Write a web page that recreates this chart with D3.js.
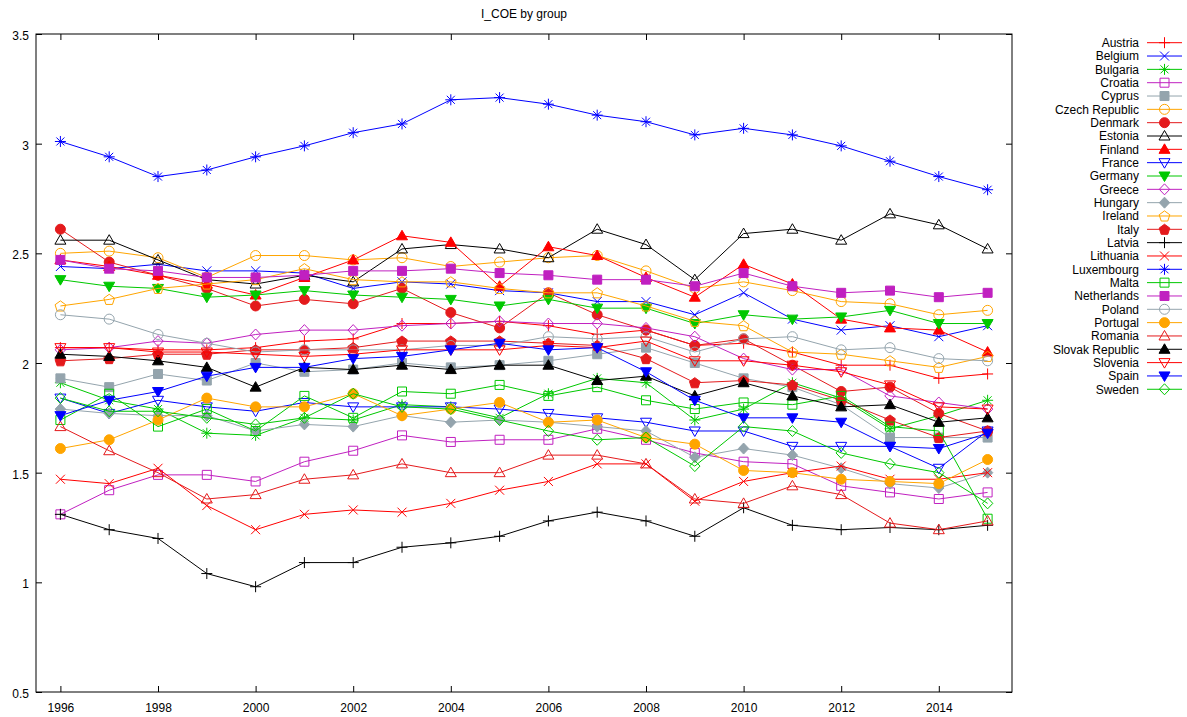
<!DOCTYPE html>
<html>
<head>
<meta charset="utf-8">
<script src="https://cdn.jsdelivr.net/npm/d3@7"></script>
<style>
  body { margin: 0; background: #fff; }
  text { font-family: "Liberation Sans", Arial, Helvetica, sans-serif; font-size: 12px; fill: #000; }
</style>
</head>
<body>
<svg id="chart" width="1187" height="717"></svg>
<script>
// ---- data -----------------------------------------------------------
const years = d3.range(1996, 2016);
const xTickYears = [1996, 1998, 2000, 2002, 2004, 2006, 2008, 2010, 2012, 2014];
const yTickValues = [0.5, 1, 1.5, 2, 2.5, 3, 3.5];
const chartTitle = "I_COE by group";

const countries = ["Austria", "Belgium", "Bulgaria", "Croatia", "Cyprus", "Czech Republic",
  "Denmark", "Estonia", "Finland", "France", "Germany", "Greece", "Hungary", "Ireland",
  "Italy", "Latvia", "Lithuania", "Luxembourg", "Malta", "Netherlands", "Poland",
  "Portugal", "Romania", "Slovak Republic", "Slovenia", "Spain", "Sweden"];

const austria     = [2.07, 2.07, 2.06, 2.06, 2.07, 2.10, 2.11, 2.18, 2.18, 2.19, 2.17, 2.13, 2.15, 2.08, 2.09, 2.05, 1.99, 1.99, 1.93, 1.95];
const belgium     = [2.44, 2.43, 2.45, 2.42, 2.42, 2.41, 2.34, 2.37, 2.36, 2.33, 2.32, 2.28, 2.28, 2.22, 2.32, 2.20, 2.15, 2.17, 2.12, 2.17];
const bulgaria    = [1.91, 1.83, 1.79, 1.68, 1.67, 1.75, 1.74, 1.81, 1.80, 1.75, 1.86, 1.93, 1.91, 1.74, 1.79, 1.91, 1.84, 1.70, 1.76, 1.83];
const croatia     = [1.31, 1.42, 1.49, 1.49, 1.46, 1.55, 1.60, 1.67, 1.64, 1.65, 1.65, 1.70, 1.65, 1.59, 1.55, 1.54, 1.44, 1.41, 1.38, 1.41];
const cyprus      = [1.93, 1.89, 1.95, 1.92, 2.00, 1.96, 1.97, 2.00, 1.98, 1.99, 2.01, 2.04, 2.07, 2.00, 1.93, 1.89, 1.81, 1.66, 1.66, 1.66];
const czech       = [2.50, 2.51, 2.48, 2.39, 2.49, 2.49, 2.47, 2.48, 2.44, 2.46, 2.48, 2.49, 2.42, 2.34, 2.37, 2.33, 2.28, 2.27, 2.22, 2.24];
const denmark     = [2.61, 2.46, 2.40, 2.34, 2.26, 2.29, 2.27, 2.34, 2.23, 2.16, 2.32, 2.22, 2.15, 2.08, 2.11, 1.99, 1.87, 1.89, 1.77, 1.69];
const estonia     = [2.56, 2.56, 2.47, 2.38, 2.36, 2.40, 2.37, 2.52, 2.54, 2.52, 2.48, 2.61, 2.54, 2.38, 2.59, 2.61, 2.56, 2.68, 2.63, 2.52];
const finland     = [2.47, 2.44, 2.40, 2.36, 2.31, 2.39, 2.47, 2.58, 2.55, 2.35, 2.53, 2.49, 2.39, 2.30, 2.45, 2.36, 2.20, 2.16, 2.15, 2.05];
const france      = [1.84, 1.77, 1.83, 1.80, 1.78, 1.82, 1.80, 1.80, 1.80, 1.79, 1.77, 1.75, 1.73, 1.69, 1.69, 1.62, 1.62, 1.62, 1.52, 1.69];
const germany     = [2.38, 2.35, 2.34, 2.30, 2.31, 2.33, 2.31, 2.30, 2.29, 2.26, 2.29, 2.25, 2.25, 2.18, 2.22, 2.20, 2.21, 2.24, 2.18, 2.18];
const greece      = [2.06, 2.07, 2.10, 2.09, 2.13, 2.15, 2.15, 2.17, 2.18, 2.19, 2.18, 2.18, 2.16, 2.12, 2.02, 1.97, 1.97, 1.85, 1.82, 1.79];
const hungary     = [1.79, 1.77, 1.76, 1.76, 1.69, 1.72, 1.71, 1.76, 1.73, 1.74, 1.73, 1.71, 1.69, 1.57, 1.61, 1.58, 1.52, 1.45, 1.43, 1.50];
const ireland     = [2.26, 2.29, 2.34, 2.36, 2.38, 2.43, 2.38, 2.37, 2.37, 2.34, 2.32, 2.32, 2.26, 2.19, 2.17, 2.05, 2.04, 2.01, 1.98, 2.03];
const italy       = [2.01, 2.02, 2.04, 2.04, 2.06, 2.06, 2.07, 2.10, 2.10, 2.10, 2.09, 2.08, 2.02, 1.91, 1.92, 1.90, 1.83, 1.74, 1.66, 1.69];
const latvia      = [1.31, 1.24, 1.20, 1.04, 0.98, 1.09, 1.09, 1.16, 1.18, 1.21, 1.28, 1.32, 1.28, 1.21, 1.34, 1.26, 1.24, 1.25, 1.24, 1.26];
const lithuania   = [1.47, 1.45, 1.52, 1.35, 1.24, 1.31, 1.33, 1.32, 1.36, 1.42, 1.46, 1.54, 1.54, 1.37, 1.46, 1.50, 1.53, 1.47, 1.47, 1.50];
const luxembourg  = [3.01, 2.94, 2.85, 2.88, 2.94, 2.99, 3.05, 3.09, 3.20, 3.21, 3.18, 3.13, 3.10, 3.04, 3.07, 3.04, 2.99, 2.92, 2.85, 2.79];
const malta       = [1.74, 1.86, 1.71, 1.79, 1.69, 1.85, 1.75, 1.87, 1.86, 1.90, 1.85, 1.89, 1.83, 1.79, 1.82, 1.81, 1.85, 1.71, 1.69, 1.29];
const netherlands = [2.47, 2.43, 2.42, 2.39, 2.39, 2.40, 2.42, 2.42, 2.43, 2.41, 2.40, 2.38, 2.38, 2.35, 2.41, 2.35, 2.32, 2.33, 2.30, 2.32];
const poland      = [2.22, 2.20, 2.13, 2.09, 2.05, 2.06, 2.06, 2.06, 2.08, 2.08, 2.12, 2.11, 2.12, 2.05, 2.11, 2.12, 2.06, 2.07, 2.02, 2.01];
const portugal    = [1.61, 1.65, 1.74, 1.84, 1.80, 1.80, 1.86, 1.76, 1.79, 1.82, 1.73, 1.74, 1.66, 1.63, 1.51, 1.50, 1.47, 1.46, 1.45, 1.56];
const romania     = [1.71, 1.60, 1.50, 1.38, 1.40, 1.47, 1.49, 1.54, 1.50, 1.50, 1.58, 1.58, 1.54, 1.38, 1.36, 1.44, 1.40, 1.27, 1.24, 1.28];
const slovakia    = [2.04, 2.03, 2.01, 1.98, 1.89, 1.98, 1.97, 1.99, 1.97, 1.99, 1.99, 1.92, 1.94, 1.85, 1.91, 1.85, 1.80, 1.81, 1.73, 1.75];
const slovenia    = [2.07, 2.07, 2.05, 2.05, 2.04, 2.03, 2.04, 2.06, 2.06, 2.06, 2.08, 2.07, 2.10, 2.01, 2.01, 1.99, 1.96, 1.90, 1.80, 1.79];
const spain       = [1.76, 1.83, 1.87, 1.94, 1.98, 1.98, 2.02, 2.03, 2.06, 2.09, 2.06, 2.07, 1.96, 1.83, 1.75, 1.75, 1.73, 1.62, 1.61, 1.68];
const sweden      = [1.84, 1.78, 1.78, 1.75, 1.72, 1.75, 1.86, 1.80, 1.79, 1.74, 1.69, 1.65, 1.66, 1.53, 1.71, 1.69, 1.59, 1.54, 1.50, 1.36];

const seriesValues = [austria, belgium, bulgaria, croatia, cyprus, czech, denmark, estonia,
  finland, france, germany, greece, hungary, ireland, italy, latvia, lithuania, luxembourg,
  malta, netherlands, poland, portugal, romania, slovakia, slovenia, spain, sweden];

// ---- styling --------------------------------------------------------
const palette = ["#ff0000", "#0000ff", "#00c800", "#c020c0", "#94a4ad", "#ffa500", "#e41a1c", "#000000"];
const markerTypes = ["plus", "cross", "star", "squareOpen", "squareFilled", "circleOpen", "circleFilled",
  "triUpOpen", "triUpFilled", "triDownOpen", "triDownFilled", "diamondOpen", "diamondFilled",
  "pentOpen", "pentFilled"];

const W = 1187, H = 717;
const plot = { left: 36, right: 1012, top: 34, bottom: 692 };

const svg = d3.select("#chart");
svg.append("rect").attr("width", W).attr("height", H).attr("fill", "#fff");

const x = d3.scaleLinear().domain([1995.5, 2015.5]).range([plot.left, plot.right]);
const y = d3.scaleLinear().domain([0.5, 3.5]).range([plot.bottom, plot.top]);

// marker geometry: returns {d, filled}
function markerPath(type) {
  const p = d3.path();
  const poly = pts => { p.moveTo(pts[0][0], pts[0][1]); pts.slice(1).forEach(q => p.lineTo(q[0], q[1])); p.closePath(); };
  switch (type) {
    case "plus": p.moveTo(-5.5, 0); p.lineTo(5.5, 0); p.moveTo(0, -5.5); p.lineTo(0, 5.5); break;
    case "cross": p.moveTo(-4.5, -4.5); p.lineTo(4.5, 4.5); p.moveTo(-4.5, 4.5); p.lineTo(4.5, -4.5); break;
    case "star":
      p.moveTo(-5.5, 0); p.lineTo(5.5, 0); p.moveTo(0, -5.5); p.lineTo(0, 5.5);
      p.moveTo(-4, -4); p.lineTo(4, 4); p.moveTo(-4, 4); p.lineTo(4, -4); break;
    case "squareOpen": case "squareFilled": poly([[-4.5, -4.5], [4.5, -4.5], [4.5, 4.5], [-4.5, 4.5]]); break;
    case "circleOpen": case "circleFilled": p.moveTo(5, 0); p.arc(0, 0, 5, 0, 2 * Math.PI); break;
    case "triUpOpen": case "triUpFilled": poly([[0, -5.5], [5.5, 4], [-5.5, 4]]); break;
    case "triDownOpen": case "triDownFilled": poly([[0, 5.5], [5.5, -4], [-5.5, -4]]); break;
    case "diamondOpen": case "diamondFilled": poly([[0, -5.5], [5.2, 0], [0, 5.5], [-5.2, 0]]); break;
    case "pentOpen": case "pentFilled": {
      const pts = d3.range(5).map(k => {
        const a = -Math.PI / 2 + k * 2 * Math.PI / 5;
        return [5.6 * Math.cos(a), 5.6 * Math.sin(a) + 0.5];
      });
      poly(pts); break;
    }
  }
  return p.toString();
}
const isFilled = t => /Filled$/.test(t);

// ---- axes -----------------------------------------------------------
const axes = svg.append("g");

axes.append("g")
  .attr("transform", `translate(${plot.left},0)`)
  .call(d3.axisLeft(y).tickValues(yTickValues).tickFormat(d3.format("~g")).tickSize(-6).tickPadding(7))
  .call(g => g.select(".domain").remove())
  .call(g => g.selectAll("text").attr("dy", "0.45em"));

axes.append("g")
  .attr("transform", `translate(${plot.right},0)`)
  .call(d3.axisRight(y).tickValues(yTickValues).tickFormat("").tickSize(-6))
  .call(g => g.select(".domain").remove());

axes.append("g")
  .attr("transform", `translate(0,${plot.bottom})`)
  .call(d3.axisBottom(x).tickValues(xTickYears).tickFormat(d3.format("d")).tickSize(-6).tickPadding(11))
  .call(g => g.select(".domain").remove());

axes.append("g")
  .attr("transform", `translate(0,${plot.top})`)
  .call(d3.axisTop(x).tickValues(xTickYears).tickFormat("").tickSize(-6))
  .call(g => g.select(".domain").remove());

axes.selectAll(".tick line").attr("stroke", "#000").attr("stroke-width", 1);
axes.selectAll(".tick text").style("font-size", "12px").attr("fill", "#000");

// ---- series ---------------------------------------------------------
const line = d3.line().x((d, i) => x(years[i])).y(d => y(d));
const seriesG = svg.append("g");

countries.forEach((name, i) => {
  const color = palette[i % palette.length];
  const mType = markerTypes[i % markerTypes.length];
  const vals = seriesValues[i];
  const g = seriesG.append("g").attr("class", "series");
  g.append("path")
    .attr("d", line(vals))
    .attr("fill", "none")
    .attr("stroke", color)
    .attr("stroke-width", 1);
  const d = markerPath(mType);
  g.selectAll("path.pt")
    .data(vals)
    .join("path")
    .attr("class", "pt")
    .attr("transform", (v, k) => `translate(${x(years[k])},${y(v)})`)
    .attr("d", d)
    .attr("fill", isFilled(mType) ? color : "none")
    .attr("stroke", color)
    .attr("stroke-width", 1);
});

// ---- frame ----------------------------------------------------------
svg.append("rect")
  .attr("x", plot.left).attr("y", plot.top)
  .attr("width", plot.right - plot.left).attr("height", plot.bottom - plot.top)
  .attr("fill", "none").attr("stroke", "#000").attr("stroke-width", 1);

// ---- title ----------------------------------------------------------
svg.append("text")
  .attr("x", (plot.left + plot.right) / 2).attr("y", 18)
  .attr("text-anchor", "middle")
  .text(chartTitle);

// ---- legend ---------------------------------------------------------
const legend = svg.append("g");
const legendTop = 42.7, legendStep = 13.33;
countries.forEach((name, i) => {
  const color = palette[i % palette.length];
  const mType = markerTypes[i % markerTypes.length];
  const ly = legendTop + i * legendStep;
  legend.append("text")
    .attr("x", 1139).attr("y", ly).attr("dy", "0.36em")
    .attr("text-anchor", "end")
    .text(name);
  legend.append("line")
    .attr("x1", 1147).attr("x2", 1182).attr("y1", ly).attr("y2", ly)
    .attr("stroke", color).attr("stroke-width", 1);
  legend.append("path")
    .attr("transform", `translate(1164.5,${ly})`)
    .attr("d", markerPath(mType))
    .attr("fill", isFilled(mType) ? color : "none")
    .attr("stroke", color).attr("stroke-width", 1);
});
</script>
</body>
</html>
